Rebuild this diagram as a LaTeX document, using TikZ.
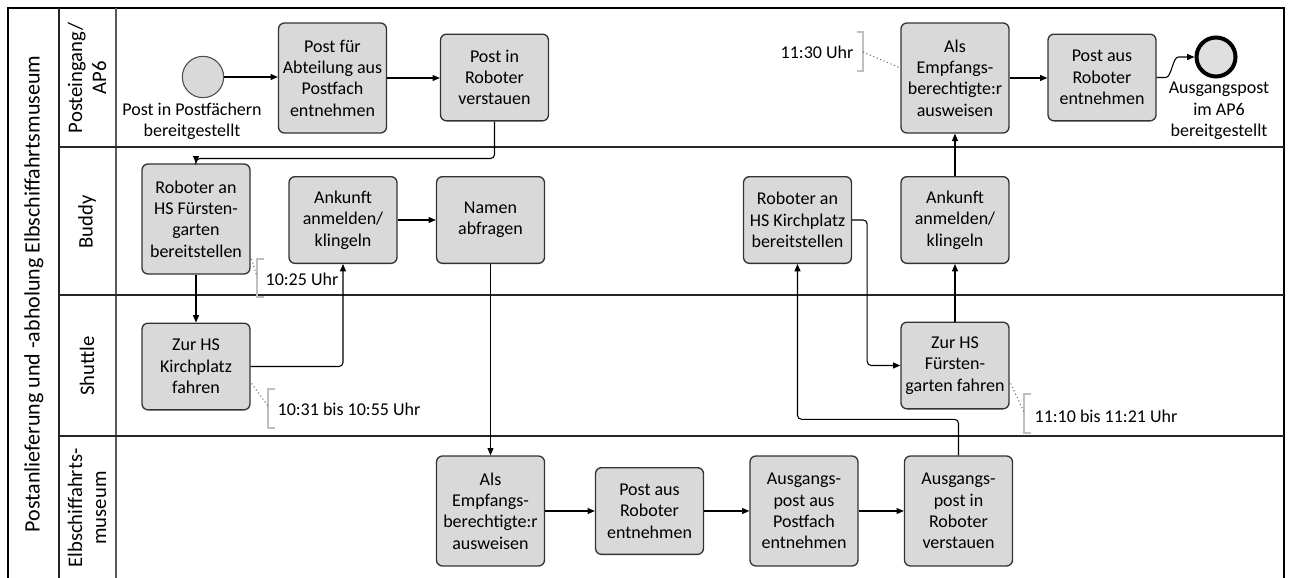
\documentclass[tikz,border=0pt]{standalone}
\usepackage{fontspec}
\setmainfont{Carlito}
\usetikzlibrary{arrows.meta,calc}
\begin{document}
\begin{tikzpicture}[x=0.75pt,y=-0.75pt,
  every node/.style={font=\fontsize{13.5}{16}\selectfont},
  task/.style={draw=black!80, fill=gray!30, rounded corners=4.5pt, line width=1pt, align=center, inner sep=0pt, minimum width=81pt},
  tall/.style={task, minimum height=82.5pt},
  short/.style={task, minimum height=65pt},
  flow/.style={draw=black, line width=0.8pt, -{Triangle[length=5.5pt,width=4.5pt]}, rounded corners=3pt},
  note/.style={draw=black!25, line width=0.8pt},
  assoc/.style={draw=black!60, dotted, line width=0.8pt},
  lane/.style={draw=black!85, line width=1.2pt},
  lanelabel/.style={rotate=90, align=center, font=\fontsize{15.5}{18}\selectfont}
]
\useasboundingbox (0,0) rectangle (1292,578);
% pool and lanes
\draw[line width=1.8pt] (8,578) -- (8,8) -- (1284,8) -- (1284,578);
\draw[lane] (59,8) -- (59,578);
\draw[lane, draw=black!65, line width=1.5pt] (116,8) -- (116,578);
\draw[lane] (59,147) -- (1284,147);
\draw[lane] (59,295) -- (1284,295);
\draw[lane] (59,436) -- (1284,436);
\node[rotate=90, font=\fontsize{16.5}{19}\selectfont] (title) at (34,294) {Postanlieferung und -abholung Elbschiffahrtsmuseum};
\node[lanelabel] (lane1) at (87,78) {Posteingang/\\AP6};
\node[lanelabel] (lane2) at (87,222) {Buddy};
\node[lanelabel] (lane3) at (87,366) {Shuttle};
\node[lanelabel] (lane4) at (87,508) {Elbschiffahrts-\\museum};

% lane 1
\node[circle, draw=black!70, fill=gray!30, line width=0.8pt, minimum size=31pt, inner sep=0pt] (start) at (203,77) {};
\node[align=center] (startlbl) at (192,121) {Post in Postfächern\\bereitgestellt};
\node[tall] (t1) at (332.5,78) {Post für\\Abteilung aus\\Postfach\\entnehmen};
\node[short] (t2) at (494.5,77.5) {Post in\\Roboter\\verstauen};
\node[tall] (t3) at (955,78) {Als\\Empfangs-\\berechtigte:r\\ausweisen};
\node[short] (t4) at (1102,77.5) {Post aus\\Roboter\\entnehmen};
\node[circle, draw=black, fill=gray!25, line width=3pt, minimum size=29.25pt, inner sep=0pt] (endev) at (1216,57) {};
\node[align=center] (endlbl) at (1219,111) {Ausgangspost\\im AP6\\bereitgestellt};

% lane 2
\node[tall] (b1) at (196,219) {Roboter an\\HS Fürsten-\\garten\\bereitstellen};
\node[short] (b2) at (343,220) {Ankunft\\anmelden/\\klingeln};
\node[short] (b3) at (490.5,220) {Namen\\abfragen};
\node[short] (b4) at (797.5,220) {Roboter an\\HS Kirchplatz\\bereitstellen};
\node[short] (b5) at (955,220) {Ankunft\\anmelden/\\klingeln};

% lane 3
\node[short] (s1) at (196,366.5) {Zur HS\\Kirchplatz\\fahren};
\node[short] (s2) at (955,365.5) {Zur HS\\Fürsten-\\garten fahren};

% lane 4
\node[tall] (m1) at (490.5,511) {Als\\Empfangs-\\berechtigte:r\\ausweisen};
\node[short] (m2) at (649.5,511) {Post aus\\Roboter\\entnehmen};
\node[tall] (m3) at (804,511) {Ausgangs-\\post aus\\Postfach\\entnehmen};
\node[tall] (m4) at (958.5,511) {Ausgangs-\\post in\\Roboter\\verstauen};

% annotations
\node (n1) at (817,52) {11:30 Uhr};
\draw[note] (857,32) -- (863,32) -- (863,71) -- (857,71);
\coordinate (n1b) at (863,52);
\draw[assoc] (n1b) -- ($(t3.west)+(0,-10)$);

\node (n2) at (302,279) {10:25 Uhr};
\draw[note] (264,259) -- (257,259) -- (257,297) -- (264,297);
\coordinate (n2b) at (257,277);
\draw[assoc] ($(b1.east)+(1,40)$) -- (n2b);

\node (n3) at (349,409) {10:31 bis 10:55 Uhr};
\draw[note] (275,389) -- (268,389) -- (268,428) -- (275,428);
\coordinate (n3b) at (268,406);
\draw[assoc] ($(s1.east)+(1,17)$) -- (n3b);

\node (n4) at (1106,416) {11:10 bis 11:21 Uhr};
\draw[note] (1031,394) -- (1024,394) -- (1024,433) -- (1031,433);
\coordinate (n4b) at (1024,412);
\draw[assoc] ($(s2.east)+(1,18)$) -- (n4b);

% flows
\draw[flow] (start.east) -- (start.east -| t1.west);
\draw[flow] (t1.east) -- (t1.east -| t2.west);
\draw[flow] (t3.east) -- (t3.east -| t4.west);
\draw[flow, rounded corners=0pt] (t4.east) -- ++(9,0) .. controls ++(6,0) and ++(-6,0) .. ($(endev.west)+(-16,0)$) -- (endev.west);
\draw[flow] (t2.south) -- ++(0,37) -| (b1.north);
\draw[flow] (b1.south) -- (s1.north);
\draw[flow] (s1.east) -| (b2.south);
\draw[flow] (b2.east) -- (b3.west);
\draw[flow] (b3.south) -- (m1.north);
\draw[flow] (m1.east) -- (m2.west);
\draw[flow] (m2.east) -- (m3.west);
\draw[flow] (m3.east) -- (m4.west);
\draw[flow] (m4.north) -- ++(0,-36) -| (b4.south);
\draw[flow] (b4.east) -- ++(15,0) |- (s2.west);
\draw[flow] (s2.north) -- (b5.south);
\draw[flow] (b5.north) -- (t3.south);
\end{tikzpicture}
\end{document}
